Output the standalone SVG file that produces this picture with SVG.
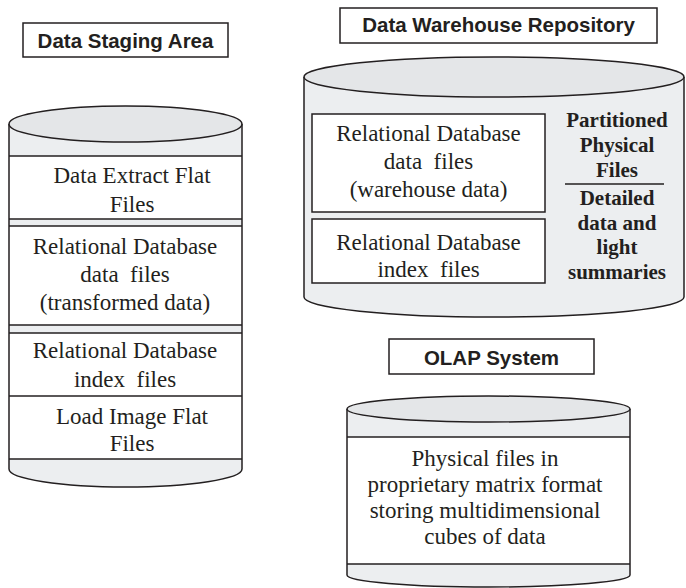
<svg xmlns="http://www.w3.org/2000/svg" width="686" height="588" viewBox="0 0 686 588">
<style>
  .box { fill: #ffffff; stroke: #231f20; stroke-width: 1.5; }
  .title { font-family: "Liberation Sans", Arial, sans-serif; font-weight: bold; font-size: 20.5px; fill: #231f20; text-anchor: middle; }
  .body { fill: #eceef0; stroke: none; }
  .outline { fill: none; stroke: #231f20; stroke-width: 1.5; }
  .top { fill: #e4e6e8; stroke: #231f20; stroke-width: 1.5; }
  .sect { fill: #ffffff; stroke: none; }
  .rule { stroke: #231f20; stroke-width: 1.5; }
  .inner { fill: #ffffff; stroke: #231f20; stroke-width: 1.5; }
  .txt { font-family: "Liberation Serif", "Times New Roman", serif; font-size: 23px; fill: #231f20; text-anchor: middle; white-space: pre; }
  .btxt { font-family: "Liberation Serif", "Times New Roman", serif; font-weight: bold; font-size: 21px; fill: #231f20; text-anchor: middle; }
</style>

<g id="staging-title">
  <rect class="box" x="23" y="23" width="205" height="34"/>
  <text class="title" x="125.5" y="48">Data Staging Area</text>
</g>

<g id="staging-cylinder">
  <path class="body" d="M9,124 L9,469 A116.5,18 0 0 0 242,469 L242,124 Z"/>
  <rect class="sect" x="9" y="156" width="233" height="63"/>
  <rect class="sect" x="9" y="226" width="233" height="99"/>
  <rect class="sect" x="9" y="333" width="233" height="126"/>
  <line class="rule" x1="9" y1="156" x2="242" y2="156"/>
  <line class="rule" x1="9" y1="219" x2="242" y2="219"/>
  <line class="rule" x1="9" y1="226" x2="242" y2="226"/>
  <line class="rule" x1="9" y1="325" x2="242" y2="325"/>
  <line class="rule" x1="9" y1="333" x2="242" y2="333"/>
  <line class="rule" x1="9" y1="396" x2="242" y2="396"/>
  <line class="rule" x1="9" y1="459" x2="242" y2="459"/>
  <path class="outline" d="M9,124 L9,469 A116.5,18 0 0 0 242,469 L242,124"/>
  <ellipse class="top" cx="125.5" cy="124" rx="116.5" ry="18"/>
  <text class="txt" x="132" y="183">Data Extract Flat</text>
  <text class="txt" x="132" y="212">Files</text>
  <text class="txt" x="125" y="254">Relational Database</text>
  <text class="txt" x="125" y="282" xml:space="preserve">data  files</text>
  <text class="txt" x="125" y="310">(transformed data)</text>
  <text class="txt" x="125" y="358">Relational Database</text>
  <text class="txt" x="125" y="387" xml:space="preserve">index  files</text>
  <text class="txt" x="132" y="424">Load Image Flat</text>
  <text class="txt" x="132" y="451">Files</text>
</g>

<g id="warehouse-title">
  <rect class="box" x="340" y="8" width="317" height="35"/>
  <text class="title" x="498.5" y="32">Data Warehouse Repository</text>
</g>

<g id="warehouse-cylinder">
  <path class="body" d="M304,77 L304,297 A190,20 0 0 0 684,297 L684,77 Z"/>
  <path class="outline" d="M304,77 L304,297 A190,20 0 0 0 684,297 L684,77"/>
  <ellipse class="top" cx="494" cy="77" rx="190" ry="20"/>
  <rect class="inner" x="312" y="114" width="233" height="98"/>
  <rect class="inner" x="312" y="219" width="233" height="64"/>
  <text class="txt" x="428.5" y="141">Relational Database</text>
  <text class="txt" x="428.5" y="169" xml:space="preserve">data  files</text>
  <text class="txt" x="428.5" y="197">(warehouse data)</text>
  <text class="txt" x="428.5" y="250">Relational Database</text>
  <text class="txt" x="428.5" y="277" xml:space="preserve">index  files</text>
  <text class="btxt" x="617" y="127">Partitioned</text>
  <text class="btxt" x="617" y="152">Physical</text>
  <text class="btxt" x="617" y="177">Files</text>
  <line class="rule" x1="565" y1="184" x2="664" y2="184"/>
  <text class="btxt" x="617" y="205">Detailed</text>
  <text class="btxt" x="617" y="230">data and</text>
  <text class="btxt" x="617" y="254">light</text>
  <text class="btxt" x="617" y="279">summaries</text>
</g>

<g id="olap-title">
  <rect class="box" x="389" y="339" width="205" height="35"/>
  <text class="title" x="491.5" y="365">OLAP System</text>
</g>

<g id="olap-cylinder">
  <path class="body" d="M347,409 L347,575 A141.5,12 0 0 0 630,575 L630,409 Z"/>
  <rect class="sect" x="347" y="437" width="283" height="127"/>
  <line class="rule" x1="347" y1="437" x2="630" y2="437"/>
  <line class="rule" x1="347" y1="564" x2="630" y2="564"/>
  <path class="outline" d="M347,409 L347,575 A141.5,12 0 0 0 630,575 L630,409"/>
  <ellipse class="top" cx="488.5" cy="409" rx="141.5" ry="13"/>
  <text class="txt" x="485" y="466">Physical files in</text>
  <text class="txt" x="485" y="492">proprietary matrix format</text>
  <text class="txt" x="485" y="518">storing multidimensional</text>
  <text class="txt" x="485" y="544">cubes of data</text>
</g>

<g id="connectors"></g>
</svg>
